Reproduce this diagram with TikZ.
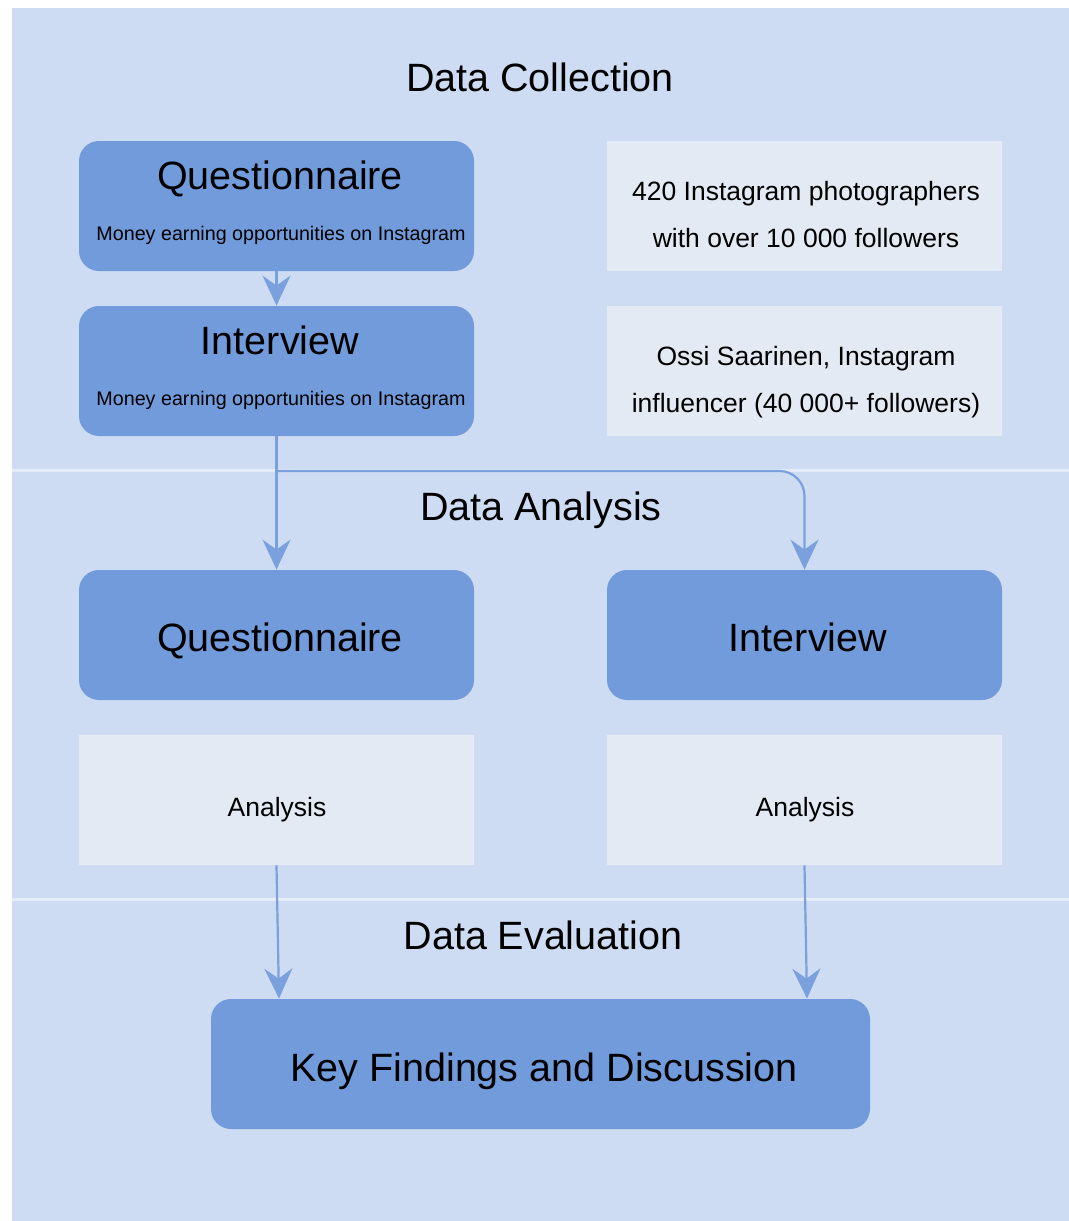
\documentclass[tikz,border=0pt]{standalone}
\usepackage{fontspec}
\setmainfont{Liberation Sans}
\usetikzlibrary{arrows.meta}

\definecolor{panelblue}{HTML}{CDDCF2}
\definecolor{boxblue}{HTML}{719BDA}
\definecolor{notegrey}{HTML}{E3EAF3}
\definecolor{arrowblue}{HTML}{7AA1DE}
\definecolor{sepwhite}{HTML}{E4ECF7}

\begin{document}
\begin{tikzpicture}[x=0.5pt,y=-0.5pt, % one unit is one pixel of the sketch
	bluebox/.style={fill=boxblue, rounded corners=10pt, minimum width=197.5pt, minimum height=65pt, inner sep=0pt},
	greybox/.style={fill=notegrey, minimum width=197.5pt, minimum height=65pt, inner sep=0pt},
	headtext/.style={font=\fontsize{19.75}{24}\selectfont, anchor=base, inner sep=0pt},
	subtext/.style={font=\fontsize{9.85}{12}\selectfont, anchor=base, inner sep=0pt},
	notetext/.style={font=\fontsize{13.25}{16}\selectfont, anchor=base, inner sep=0pt},
	flow/.style={draw=arrowblue, line width=1.1pt, -{Stealth[length=15pt,width=14pt,inset=5pt]}}]
	% Page and panel
	\fill[white] (0,0) rectangle (1069,1221);
	\useasboundingbox (0,0) rectangle (1069,1221);
	\fill[panelblue] (12,8) rectangle (1069,1221);
	\foreach \y in {470,899} % Lines between the three stages
	\draw[sepwhite, line width=1.5pt] (12,\y) -- (1069,\y);
	
	% Stage headings
	\node[headtext] (collect) at (540,91) {Data Collection};
	\node[headtext] (analyse) at (541,520) {Data Analysis};
	\node[headtext] (evaluate) at (543,949) {Data Evaluation};
	
	% Data collection
	\node[bluebox] (q1) at (276.5,206) {};
	\node[headtext] (q1t) at (280,189) {Questionnaire};
	\node[subtext] (q1s) at (281,240) {Money earning opportunities on Instagram};
	\node[bluebox] (i1) at (276.5,371) {};
	\node[headtext] (i1t) at (280,354) {Interview};
	\node[subtext] (i1s) at (281,405) {Money earning opportunities on Instagram};
	\node[greybox] (n1) at (804.5,206) {};
	\node[notetext] (n1a) at (806,200.5) {420 Instagram photographers};
	\node[notetext] (n1b) at (806,247.5) {with over 10 000 followers};
	\node[greybox] (n2) at (804.5,371) {};
	\node[notetext] (n2a) at (806,365.5) {Ossi Saarinen, Instagram};
	\node[notetext] (n2b) at (806,412.5) {influencer (40 000+ followers)};
	
	% Data analysis
	\node[bluebox] (q2) at (276.5,635) {};
	\node[headtext] (q2t) at (280,651) {Questionnaire};
	\node[bluebox] (i2) at (804.5,635) {};
	\node[headtext] (i2t) at (808,651) {Interview};
	\node[greybox] (a1) at (276.5,800) {};
	\node[notetext] (a1t) at (277,816) {Analysis};
	\node[greybox] (a2) at (804.5,800) {};
	\node[notetext] (a2t) at (805,816) {Analysis};
	
	% Data evaluation
	\node[bluebox, minimum width=329.5pt] (key) at (540.5,1064) {};
	\node[headtext] (keyt) at (544,1081) {Key Findings and Discussion};
	
	% Connectors
	\coordinate (split) at (276.5,471);
	\draw[flow] (q1) -- (i1);
	\draw[flow] (i1) -- (q2);
	\draw[flow, rounded corners=12.5pt] (split) -| (i2.north);
	\draw[flow] (a1.south) -- ([xshift=1.25pt]a1.south |- key.north);
	\draw[flow] (a2.south) -- ([xshift=1.25pt]a2.south |- key.north);
\end{tikzpicture}
\end{document}
